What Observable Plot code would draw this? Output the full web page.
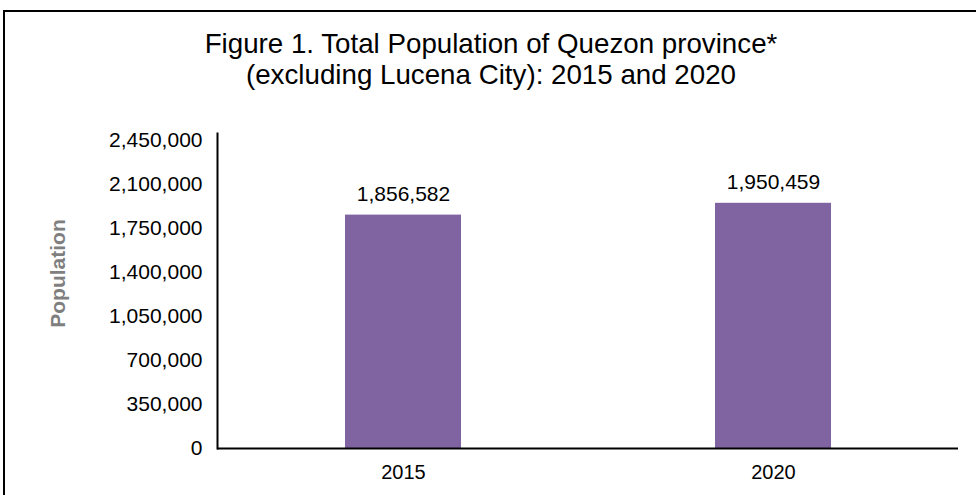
<!DOCTYPE html>
<html>
<head>
<meta charset="utf-8">
<script src="https://cdn.jsdelivr.net/npm/d3@7"></script>
<script src="https://cdn.jsdelivr.net/npm/@observablehq/plot@0.6"></script>
<style>
  html, body { margin: 0; padding: 0; background: #fff; }
  #wrap { position: relative; width: 976px; height: 495px; overflow: hidden; }
  #border { position: absolute; left: 3px; top: 10px; right: -10px; bottom: -10px;
            border-top: 2px solid #000; border-left: 2px solid #000; pointer-events: none; }
  .title { position: absolute; left: 0; width: 982px; text-align: center;
           font-family: "Liberation Sans", Arial, sans-serif;
           font-size: 28px; color: #000; line-height: 1; white-space: nowrap;
           transform: scaleX(0.99); transform-origin: 491px 0; }
  #t1 { top: 30px; }
  #t2 { top: 61px; }
  #chart { position: absolute; left: 0; top: 0; }
  #chart svg text { font-family: "Liberation Sans", Arial, sans-serif; }
</style>
</head>
<body>
<div id="wrap">
  <div id="chart"></div>
  <div id="border"></div>
  <div class="title" id="t1">Figure 1. Total Population of Quezon province*</div>
  <div class="title" id="t2">(excluding Lucena City): 2015 and 2020</div>
</div>
<script>
const years = ["2015", "2020"];
const population = [1856582, 1950459];
const yTicks = [0, 350000, 700000, 1050000, 1400000, 1750000, 2100000, 2450000];
const yLabel = "Population";

const data = years.map((y, i) => ({year: y, value: population[i]}));
const fmt = d3.format(",");

const chart = Plot.plot({
  width: 976,
  height: 495,
  marginLeft: 217,
  marginRight: 18,
  marginTop: 140,
  marginBottom: 47,
  style: {fontFamily: "Liberation Sans, Arial, sans-serif", background: "transparent", overflow: "visible"},
  x: {domain: years, paddingInner: 0.687, paddingOuter: 0.3435, label: null},
  y: {domain: [0, 2450000], label: null},
  marks: [
    Plot.barY(data, {x: "year", y: "value", fill: "#8064A2"}),
    Plot.text(data, {x: "year", y: "value", text: d => fmt(d.value), dy: -21, fontSize: 21, fill: "#000"}),
    Plot.frame({anchor: "left", stroke: "#000", strokeWidth: 2, insetTop: -7}),
    Plot.ruleY([0], {stroke: "#000", strokeWidth: 2}),
    Plot.axisY({ticks: yTicks, tickSize: 0, tickPadding: 15, tickFormat: fmt, fontSize: 21, fill: "#000", label: null}),
    Plot.axisX({tickSize: 0, tickPadding: 16, fontSize: 20, fill: "#000", label: null}),
    Plot.text([yLabel], {frameAnchor: "left", textAnchor: "middle", dx: -159, dy: -21, rotate: -90, text: d => d, fontSize: 21,
      fontWeight: "bold", fill: "#7f7f7f"})
  ]
});
document.getElementById("chart").appendChild(chart);
</script>
</body>
</html>
